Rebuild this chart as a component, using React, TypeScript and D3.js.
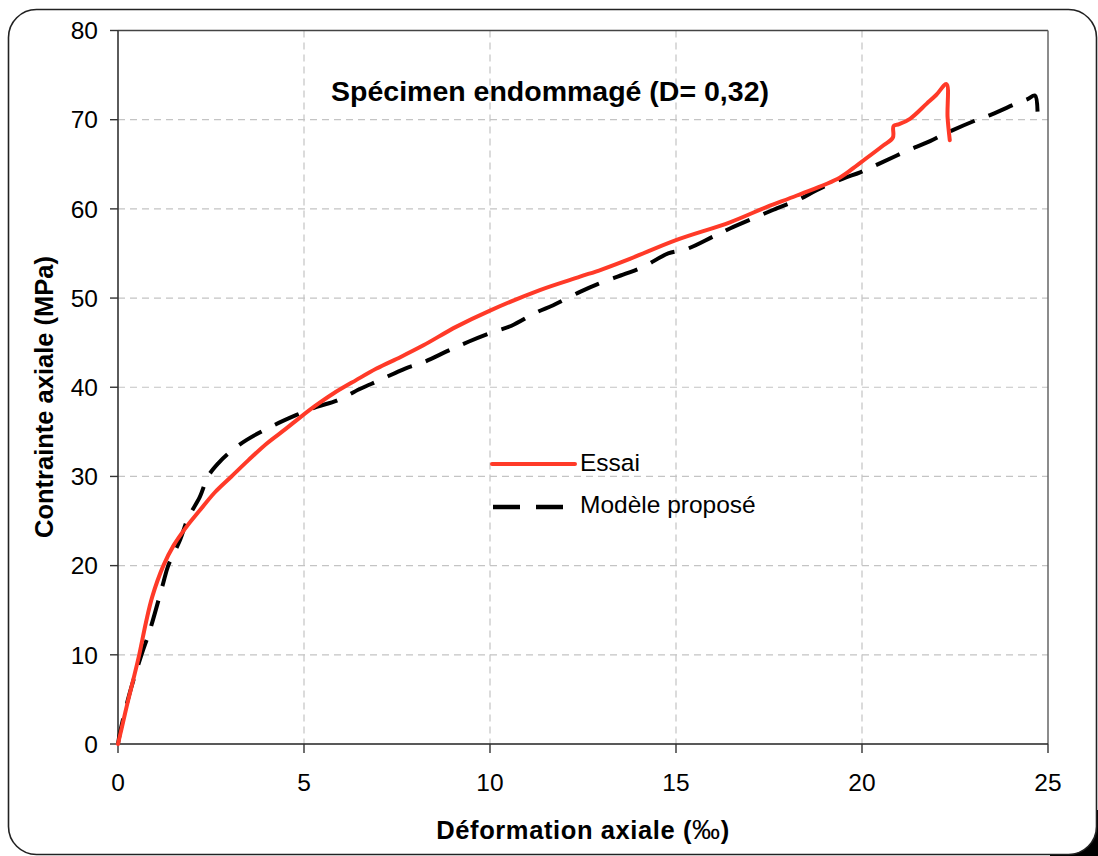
import React from "react";
import * as d3 from "d3";

const xTicks = [0, 5, 10, 15, 20, 25];
const yTicks = [0, 10, 20, 30, 40, 50, 60, 70, 80];

const essaiStrain = [0, 0.1, 0.25, 0.41, 0.57, 0.75, 0.92, 1.22, 1.5, 1.85, 2.2, 2.6, 3.05, 3.5, 4.0, 4.5, 4.89, 5.3, 5.79, 6.4, 6.95, 7.6, 8.21, 9.1, 10, 11.34, 12.42, 13.0, 13.76, 15, 16.45, 17.43, 18.25, 19.4, 19.9, 20.57, 20.83, 20.85, 21.0, 21.29, 21.74, 22.0, 22.27, 22.3, 22.36];
const essaiStress = [0, 1.8, 4.5, 7.2, 10, 13.6, 16.5, 20, 22.3, 24.4, 26.2, 28.2, 30, 31.8, 33.7, 35.3, 36.6, 37.9, 39.3, 40.8, 42.1, 43.4, 44.7, 46.8, 48.6, 50.9, 52.4, 53.2, 54.4, 56.5, 58.5, 60.2, 61.5, 63.5, 65.0, 67.1, 68.0, 69.3, 69.5, 70.1, 71.8, 72.8, 74.0, 70.3, 67.7];

const modelStrain = [0, 0.05, 0.3, 0.63, 0.86, 1.2, 1.35, 1.67, 1.88, 2.2, 2.42, 2.7, 3.0, 3.46, 4.17, 4.8, 5.34, 5.88, 6.5, 7.04, 7.72, 8.21, 8.88, 9.42, 10.09, 10.58, 11.25, 11.7, 12.42, 12.91, 13.63, 14.12, 14.79, 15.29, 16.0, 16.45, 17.17, 17.62, 18.33, 18.78, 19.49, 19.95, 20.48, 21.15, 21.83, 22.32, 23.04, 23.49, 24.2, 24.45, 24.65, 24.72];
const modelStress = [0, 1.2, 5.5, 10, 12.8, 17.8, 20, 22.9, 25.3, 27.7, 30, 31.5, 32.7, 34.1, 35.7, 36.9, 37.8, 38.5, 39.8, 40.8, 42.1, 42.8, 44.1, 45.1, 46.2, 46.9, 48.4, 49.2, 50.7, 51.6, 52.7, 53.5, 55.0, 55.5, 56.9, 57.8, 59.1, 59.9, 61.1, 62.1, 63.4, 64.1, 65.1, 66.4, 67.6, 68.6, 69.9, 70.6, 71.9, 72.3, 72.7, 69.8];

const title = "Spécimen endommagé (D= 0,32)";
const xTitle = "Déformation axiale (";
const yTitle = "Contrainte axiale (MPa)";
const legendLabels = ["Essai", "Modèle proposé"];

const W = 1098;
const H = 856;
const L = 118, R = 1048, T = 30.5, B = 744;
const FONT = "'Liberation Sans', Arial, Helvetica, sans-serif";

export default function App() {
  const x = d3.scaleLinear().domain([0, 25]).range([L, R]);
  const y = d3.scaleLinear().domain([0, 80]).range([B, T]);
  const line = d3
    .line<[number, number]>()
    .x((d) => x(d[0]))
    .y((d) => y(d[1]))
    .curve(d3.curveCatmullRom.alpha(0.5));
  const essai = essaiStrain.map((e, i) => [e, essaiStress[i]] as [number, number]);
  const model = modelStrain.map((e, i) => [e, modelStress[i]] as [number, number]);

  return (
    <div style={{ position: "absolute", left: 0, top: 0 }}>
      <svg width={W} height={H} style={{ display: "block" }}>
        <rect x={0} y={0} width={W} height={H} fill="#fff" />
        <rect x={1050} y={810} width={48} height={46} fill="#000" />
        <rect x={8.5} y={9.5} width={1088} height={845} rx={28} ry={28} fill="#fff" stroke="#222" strokeWidth={1.6} />
        {yTicks.filter((t) => t !== 0 && t !== 80).map((t) => (
          <line key={"gy" + t} x1={L} x2={R} y1={y(t)} y2={y(t)} stroke="#c4c4c4" strokeWidth={1.2} strokeDasharray="7 5" />
        ))}
        {xTicks.filter((t) => t !== 0 && t !== 25).map((t) => (
          <line key={"gx" + t} x1={x(t)} x2={x(t)} y1={T} y2={B} stroke="#c4c4c4" strokeWidth={1.2} strokeDasharray="7 5" />
        ))}
        <line x1={L} x2={R} y1={T} y2={T} stroke="#444" strokeWidth={1.5} />
        <line x1={R} x2={R} y1={T} y2={B} stroke="#666" strokeWidth={1.5} />
        <line x1={L} x2={L} y1={T} y2={B} stroke="#333" strokeWidth={1.6} />
        <line x1={L} x2={R} y1={B} y2={B} stroke="#222" strokeWidth={1.6} />
        {yTicks.map((t) => (
          <g key={"ty" + t}>
            <line x1={L - 8} x2={L} y1={y(t)} y2={y(t)} stroke="#333" strokeWidth={1.4} />
            <text x={98} y={y(t) + 8.8} textAnchor="end" fontFamily={FONT} fontSize={24.5} fill="#000">{t}</text>
          </g>
        ))}
        {xTicks.map((t) => (
          <g key={"tx" + t}>
            <line x1={x(t)} x2={x(t)} y1={B} y2={B + 9} stroke="#333" strokeWidth={1.4} />
            <text x={x(t)} y={790.5} textAnchor="middle" fontFamily={FONT} fontSize={24.5} fill="#000">{t}</text>
          </g>
        ))}
        <path d={line(model) || ""} fill="none" stroke="#000" strokeWidth={4} strokeDasharray="26 15" strokeLinejoin="round" />
        <path d={line(essai) || ""} fill="none" stroke="#ff3a28" strokeWidth={4} strokeLinejoin="round" strokeLinecap="round" />
        <text x={550} y={100.5} textAnchor="middle" fontFamily={FONT} fontWeight="bold" fontSize={28.5} fill="#000">{title}</text>
        <line x1={492} x2={575} y1={464} y2={464} stroke="#ff3a28" strokeWidth={4} strokeLinecap="round" />
        <text x={580} y={471} fontFamily={FONT} fontSize={24.5} fill="#000">{legendLabels[0]}</text>
        <line x1={493} x2={563} y1={507} y2={507} stroke="#000" strokeWidth={4.5} strokeDasharray="27 16" />
        <text x={580} y={513} fontFamily={FONT} fontSize={24.5} fill="#000">{legendLabels[1]}</text>
        <text x={(L + R) / 2} y={838.5} textAnchor="middle" fontFamily={FONT} fontWeight="bold" fontSize={25.5} letterSpacing={0.6} fill="#000">
          {xTitle}
          <tspan fontWeight="normal" fontSize={28}>‰</tspan>
          )
        </text>
        <text transform={`translate(53, ${397}) rotate(-90)`} textAnchor="middle" fontFamily={FONT} fontWeight="bold" fontSize={25.5} fill="#000">{yTitle}</text>
      </svg>
    </div>
  );
}
